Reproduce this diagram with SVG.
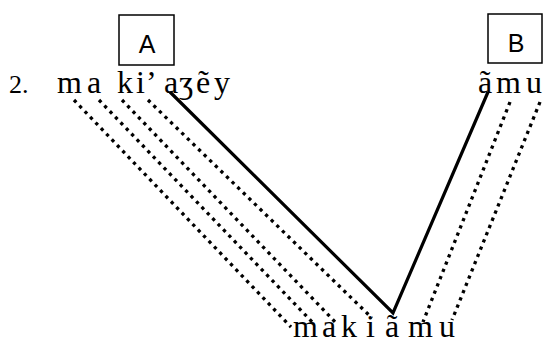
<svg xmlns="http://www.w3.org/2000/svg" width="551" height="343" viewBox="0 0 551 343">
<style>
.box{fill:#fff;stroke:#000;stroke-width:1.5}
.lab{font-family:"Liberation Sans","Open Sans",sans-serif;text-anchor:middle;fill:#000}
.t{font-family:"Liberation Serif","DejaVu Serif",serif;fill:#000}
.dot{stroke:#000;stroke-width:3.3;stroke-dasharray:3.3 4.5;fill:none}
.solid{stroke:#000;stroke-width:3.2;fill:none}
</style>
<rect width="551" height="343" fill="#fff"/>
<g id="boxA"><rect class="box" x="119" y="15" width="55" height="50"/><text class="lab" font-size="25" x="147" y="53">A</text></g>
<g id="boxB"><rect class="box" x="488" y="14" width="54" height="49"/><text class="lab" font-size="25" x="516" y="52">B</text></g>
<g id="source1"><text class="t" font-size="26" x="9" y="93">2.</text>
<text class="t" font-size="32" y="93"><tspan x="57">m</tspan><tspan x="87">a</tspan><tspan x="117">k</tspan><tspan x="136">i</tspan><tspan x="146">’</tspan><tspan x="164">a</tspan><tspan x="179">ʒ</tspan><tspan x="196">ẽ</tspan><tspan x="214">y</tspan></text></g>
<g id="source2"><text class="t" font-size="32" y="93"><tspan x="478">ã</tspan><tspan x="496">m</tspan><tspan x="526">u</tspan></text></g>
<g id="result"><text class="t" font-size="32" y="337"><tspan x="293">m</tspan><tspan x="322">a</tspan><tspan x="341">k</tspan><tspan x="366">i</tspan><tspan x="385">ã</tspan><tspan x="408">m</tspan><tspan x="439">u</tspan></text></g>
<g id="connectors">
<line class="dot" x1="74" y1="100" x2="291" y2="327"/>
<line class="dot" x1="99" y1="100" x2="315" y2="325"/>
<line class="dot" x1="122" y1="100" x2="338" y2="325"/>
<line class="dot" x1="148" y1="100" x2="372" y2="318"/>
<polyline class="solid" points="170,92 393,313 488,92"/>
<line class="dot" x1="510" y1="102" x2="423" y2="322"/>
<line class="dot" x1="540" y1="102" x2="452" y2="320"/>
</g>
</svg>
